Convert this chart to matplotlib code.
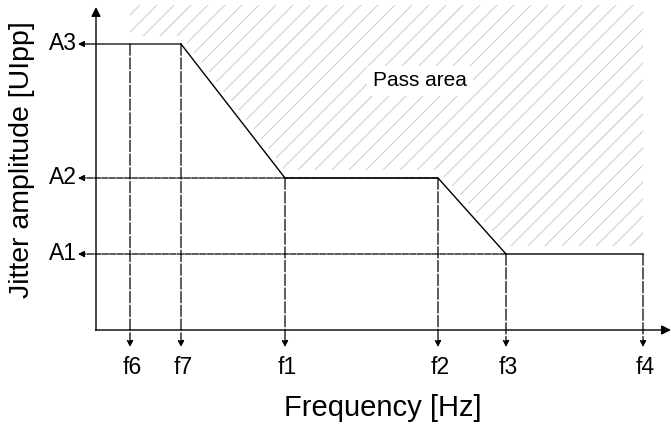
import matplotlib
matplotlib.use("Agg")
import matplotlib.pyplot as plt
from matplotlib.patches import Polygon
import numpy as np

plt.rcParams['font.family'] = ['Liberation Sans', 'DejaVu Sans']

# schematic values (arbitrary units)
freq_labels = ["f6", "f7", "f1", "f2", "f3", "f4"]
freq_values = [34, 85, 189, 342, 410, 547]
amp_labels = ["A1", "A2", "A3"]
amp_values = [76, 152, 286]
# mask corner points (frequency, amplitude)
mask_x = [85, 189, 342, 410, 547]
mask_y = [286, 152, 152, 76, 76]
hatch_top = 325

fig = plt.figure(figsize=(6.71, 4.34), dpi=100)
ax = fig.add_axes([0, 0, 1, 1])
ax.set_xlim(-96, 575)
ax.set_ylim(-104, 330)
ax.axis('off')

f = dict(zip(freq_labels, freq_values))
A = dict(zip(amp_labels, amp_values))

# hatched pass area (manual diagonal hatch clipped to region, slightly above mask)
gap = 8
hx = [f["f6"]] + mask_x
hy = [A["A3"] + gap] + [v + gap for v in mask_y]
verts = list(zip(hx, hy)) + [(hx[-1], hatch_top), (hx[0], hatch_top)]
region = Polygon(verts, closed=True, facecolor='none', edgecolor='none')
ax.add_patch(region)
step = 17
for c in np.arange(-400, 600, step):
    ln, = ax.plot([c - 50, c + 450], [-50, 450], color='#cdcdcd', lw=0.75,
                  zorder=1)
    ln.set_clip_path(region)

# mask line
ax.plot(mask_x, mask_y, color='black', lw=1.0, zorder=3)

# axes arrows
ax.annotate('', xy=(0, 323), xytext=(0, -0.5),
            arrowprops=dict(arrowstyle='-|>', color='black', lw=1.0,
                            mutation_scale=14, shrinkA=0, shrinkB=0), zorder=4)
ax.annotate('', xy=(575, 0), xytext=(-0.5, 0),
            arrowprops=dict(arrowstyle='-|>', color='black', lw=1.0,
                            mutation_scale=14, shrinkA=0, shrinkB=0), zorder=4)

# vertical dashed arrows down to frequency labels
start_amp = {"f6": A["A3"], "f7": A["A3"], "f1": A["A2"], "f2": A["A2"],
             "f3": A["A1"], "f4": A["A1"]}
for lab, xv in zip(freq_labels, freq_values):
    ax.annotate('', xy=(xv, -17), xytext=(xv, start_amp[lab]),
                arrowprops=dict(arrowstyle='-|>', color='black', lw=0.9,
                                linestyle=(0, (9, 2)), mutation_scale=9,
                                shrinkA=0, shrinkB=0), zorder=2)
    ax.text(xv + 2, -38, lab, ha='center', va='center', fontsize=16.5)

# horizontal arrows to amplitude labels
h_start = {"A3": f["f7"], "A2": f["f2"], "A1": f["f3"]}
h_style = {"A3": '-', "A2": (0, (5, 1)), "A1": (0, (5, 1))}
for lab, yv in zip(amp_labels, amp_values):
    ax.annotate('', xy=(-18, yv), xytext=(h_start[lab], yv),
                arrowprops=dict(arrowstyle='-|>', color='black', lw=0.9,
                                linestyle=h_style[lab], mutation_scale=9,
                                shrinkA=0, shrinkB=0), zorder=2)
    ax.text(-19, yv, lab, ha='right', va='center', fontsize=16.5)

ax.text(324, 249, "Pass area", ha='center', va='center', fontsize=15,
        bbox=dict(facecolor='white', edgecolor='none', pad=4), zorder=2)

fig.text(383 / 671, 1 - 408 / 434, "Frequency [Hz]", ha='center', va='center',
         fontsize=21)
fig.text(22 / 671, 1 - 160 / 434, "Jitter amplitude [UIpp]", ha='center',
         va='center', rotation=90, fontsize=20.5)

fig.savefig("out.png", dpi=100)
